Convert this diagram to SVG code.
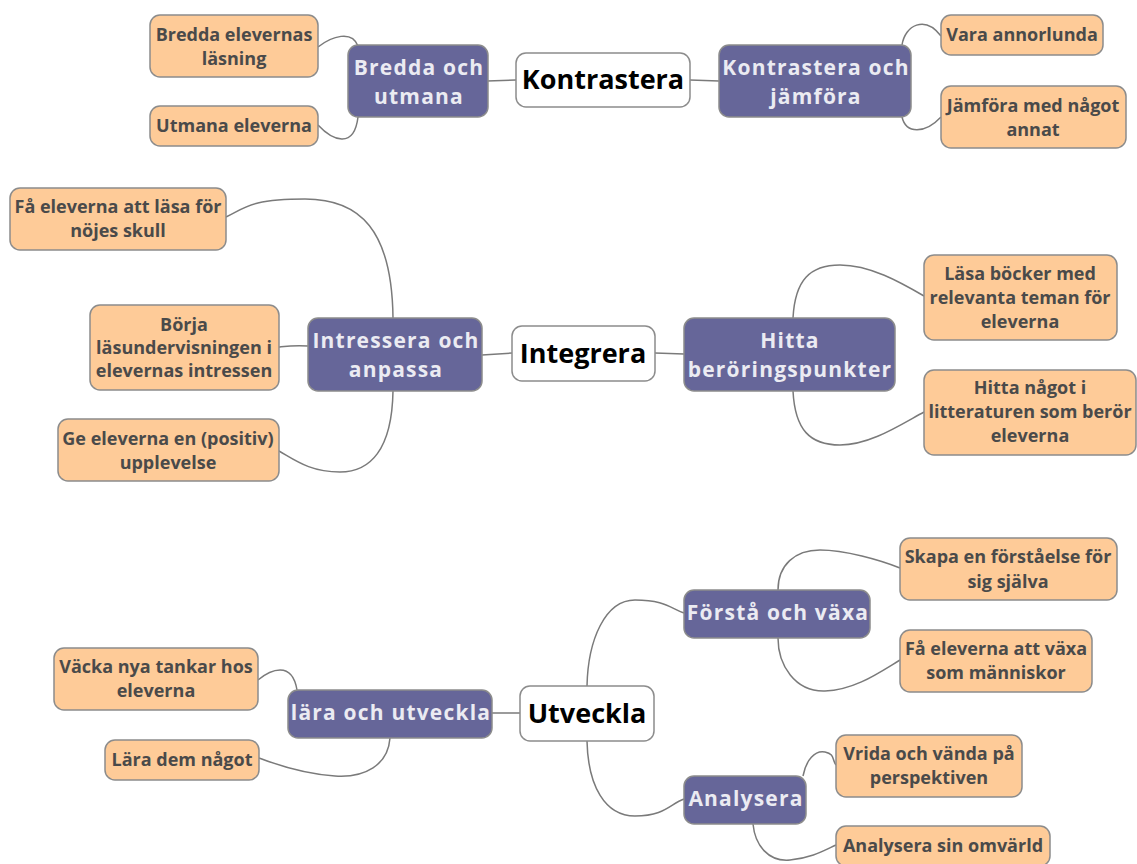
<svg xmlns="http://www.w3.org/2000/svg" width="1137" height="864" viewBox="0 0 1137 864">
<style>
.leaf rect{fill:#fecb98;stroke:#8c8c8c;stroke-width:1.5}
.leaf text{font-family:"Open Sans","Noto Sans",sans-serif;font-weight:bold;font-size:18px;fill:#4a4a4a;text-anchor:middle}
.mid rect{fill:#666699;stroke:#8c8c8c;stroke-width:1.5}
.mid text{font-family:"Open Sans","Noto Sans",sans-serif;font-weight:bold;font-size:21px;fill:#ebebf2;text-anchor:middle;letter-spacing:1.2px}
.main rect{fill:#ffffff;stroke:#8c8c8c;stroke-width:1.5}
.main text{font-family:"Open Sans","Noto Sans",sans-serif;font-weight:bold;font-size:27px;fill:#000;text-anchor:middle}
#connectors path{fill:none;stroke:#7a7a7a;stroke-width:1.5}
</style>
<rect width="1137" height="864" fill="#ffffff"/>
<g id="connectors">
<path d="M516,80 L487,81"/>
<path d="M690,80 L719,81"/>
<path d="M318,47 C332,36 352,30 358,46"/>
<path d="M318,125 C332,140 354,150 358,117"/>
<path d="M902,45 C905,25 925,15 941,36"/>
<path d="M902,117 C906,134 925,134 941,117"/>
<path d="M512,353 L482,355"/>
<path d="M655,353 L684,354"/>
<path d="M393,318 C392,230 360,199 305,199 S245,208 226,217"/>
<path d="M308,346 C295,345 288,346 279,347"/>
<path d="M393,391 C392,450 370,472 340,472 S295,460 279,451"/>
<path d="M793,318 C795,280 810,265 840,265 S900,282 924,296"/>
<path d="M793,391 C795,430 810,445 840,445 S900,425 924,412"/>
<path d="M587,686 C588,640 605,600 635,600 S670,608 684,613"/>
<path d="M587,741 C588,786 605,816 635,816 S670,804 684,799"/>
<path d="M520,713 L492,713"/>
<path d="M258,680 C270,670 292,660 297,690"/>
<path d="M390,738 C388,765 365,778 335,776 S280,766 259,758"/>
<path d="M778,590 C778,565 795,550 820,550 S880,560 900,568"/>
<path d="M778,638 C778,665 795,692 825,691 S880,672 900,660"/>
<path d="M803,776 C806,760 815,750 825,752 S832,760 836,765"/>
<path d="M753,824 C755,845 768,862 790,860 S825,850 836,845"/>
</g>
<g id="n-kontrastera" class="main"><rect x="516" y="53" width="174" height="54" rx="10"/><text x="603" y="89">Kontrastera</text></g>
<g id="n-bredda-utmana" class="mid"><rect x="348" y="45" width="140" height="72" rx="10"/><text x="419" y="75">Bredda och</text><text x="419" y="104">utmana</text></g>
<g id="n-kontrastera-jamfora" class="mid"><rect x="719" y="45" width="192" height="72" rx="10"/><text x="816" y="75">Kontrastera och</text><text x="816" y="104">jämföra</text></g>
<g id="n-bredda-lasning" class="leaf"><rect x="150" y="15" width="168" height="62" rx="10"/><text x="234" y="41">Bredda elevernas</text><text x="234" y="65">läsning</text></g>
<g id="n-utmana" class="leaf"><rect x="150" y="106" width="168" height="40" rx="10"/><text x="234" y="132">Utmana eleverna</text></g>
<g id="n-vara" class="leaf"><rect x="941" y="15" width="162" height="40" rx="10"/><text x="1022" y="41">Vara annorlunda</text></g>
<g id="n-jamfora" class="leaf"><rect x="941" y="86" width="185" height="62" rx="10"/><text x="1033" y="112">Jämföra med något</text><text x="1033" y="136">annat</text></g>

<g id="n-integrera" class="main"><rect x="512" y="326" width="143" height="55" rx="10"/><text x="583" y="363">Integrera</text></g>
<g id="n-intressera" class="mid"><rect x="308" y="318" width="174" height="73" rx="10"/><text x="396" y="348">Intressera och</text><text x="396" y="377">anpassa</text></g>
<g id="n-hitta" class="mid"><rect x="684" y="318" width="211" height="73" rx="10"/><text x="790" y="348">Hitta</text><text x="790" y="377">beröringspunkter</text></g>
<g id="n-fa-lasa" class="leaf"><rect x="10" y="188" width="216" height="62" rx="10"/><text x="118" y="213">Få eleverna att läsa för</text><text x="118" y="237">nöjes skull</text></g>
<g id="n-borja" class="leaf"><rect x="90" y="305" width="189" height="85" rx="10"/><text x="184" y="331">Börja</text><text x="184" y="354">läsundervisningen i</text><text x="184" y="377">elevernas intressen</text></g>
<g id="n-ge" class="leaf"><rect x="58" y="419" width="221" height="62" rx="10"/><text x="168" y="445">Ge eleverna en (positiv)</text><text x="168" y="469">upplevelse</text></g>
<g id="n-lasa-bocker" class="leaf"><rect x="924" y="255" width="193" height="85" rx="10"/><text x="1020" y="280">Läsa böcker med</text><text x="1020" y="304">relevanta teman för</text><text x="1020" y="328">eleverna</text></g>
<g id="n-hitta-nagot" class="leaf"><rect x="924" y="370" width="212" height="85" rx="10"/><text x="1030" y="394">Hitta något i</text><text x="1030" y="418">litteraturen som berör</text><text x="1030" y="442">eleverna</text></g>

<g id="n-utveckla" class="main"><rect x="520" y="686" width="134" height="55" rx="10"/><text x="587" y="723">Utveckla</text></g>
<g id="n-lara-utveckla" class="mid"><rect x="288" y="690" width="204" height="48" rx="10"/><text x="391" y="720">lära och utveckla</text></g>
<g id="n-forsta" class="mid"><rect x="684" y="590" width="186" height="48" rx="10"/><text x="778" y="620">Förstå och växa</text></g>
<g id="n-analysera" class="mid"><rect x="684" y="776" width="122" height="48" rx="10"/><text x="746" y="806">Analysera</text></g>
<g id="n-vacka" class="leaf"><rect x="54" y="648" width="204" height="62" rx="10"/><text x="156" y="673">Väcka nya tankar hos</text><text x="156" y="697">eleverna</text></g>
<g id="n-lara-dem" class="leaf"><rect x="105" y="740" width="154" height="40" rx="10"/><text x="182" y="766">Lära dem något</text></g>
<g id="n-skapa" class="leaf"><rect x="900" y="538" width="217" height="62" rx="10"/><text x="1008" y="563">Skapa en förståelse för</text><text x="1008" y="588">sig själva</text></g>
<g id="n-vaxa" class="leaf"><rect x="900" y="630" width="192" height="62" rx="10"/><text x="996" y="655">Få eleverna att växa</text><text x="996" y="679">som människor</text></g>
<g id="n-vrida" class="leaf"><rect x="836" y="735" width="186" height="62" rx="10"/><text x="929" y="760">Vrida och vända på</text><text x="929" y="784">perspektiven</text></g>
<g id="n-omvarld" class="leaf"><rect x="836" y="826" width="214" height="40" rx="10"/><text x="943" y="852">Analysera sin omvärld</text></g>
</svg>
